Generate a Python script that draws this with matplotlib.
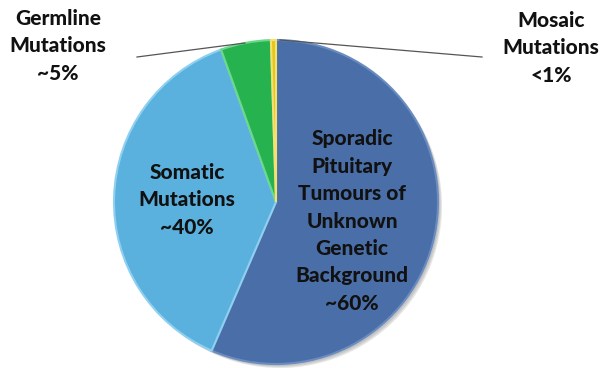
import matplotlib.pyplot as plt
from matplotlib.patches import Circle

labels = ["Sporadic\nPituitary\nTumours of\nUnknown\nGenetic\nBackground\n~60%",
          "Somatic\nMutations\n~40%",
          "Germline\nMutations\n~5%",
          "Mosaic\nMutations\n<1%"]
values = [56.5, 38.0, 5.0, 0.5]
colors = ["#4a6fa8", "#5ab1de", "#26b24e", "#e6c619"]
edges = ["#6a8cc0", "#8fd0f0", "#6bd88a", "#f5e070"]

W, H = 603, 368
fig = plt.figure(figsize=(W / 100, H / 100), dpi=100)
ax = fig.add_axes([0, 0, 1, 1])

cx, cy, r = 276, H - 202, 162
# soft drop shadow
for i, a in enumerate([0.10, 0.10, 0.12]):
    ax.add_patch(Circle((cx + 2 + i, cy - 2 - i), r, color="#333333", alpha=a, lw=0))
wedges, _ = ax.pie(values, colors=colors, startangle=90, counterclock=False,
                   center=(cx, cy), radius=r, frame=True,
                   wedgeprops=dict(linewidth=1.5))
for w, ec in zip(wedges, edges):
    w.set_edgecolor(ec)
ax.set_xlim(0, W)
ax.set_ylim(0, H)
ax.set_aspect("equal")
ax.axis("off")

font = dict(family="Lato", fontweight="black", fontsize=15, color="#111111",
            ha="center", va="center", linespacing=1.53)

ax.text(352, H - 221, labels[0], **font)
ax.text(187, H - 200, labels[1], **font)
ax.text(58, H - 46, labels[2], **font)
ax.text(551, H - 48, labels[3], **font)

# leader lines
ax.plot([137, 245], [H - 57, H - 43], color="#555555", lw=0.9)
ax.plot([280, 482], [H - 40, H - 57], color="#555555", lw=0.9)

fig.savefig("out.png", dpi=100)
